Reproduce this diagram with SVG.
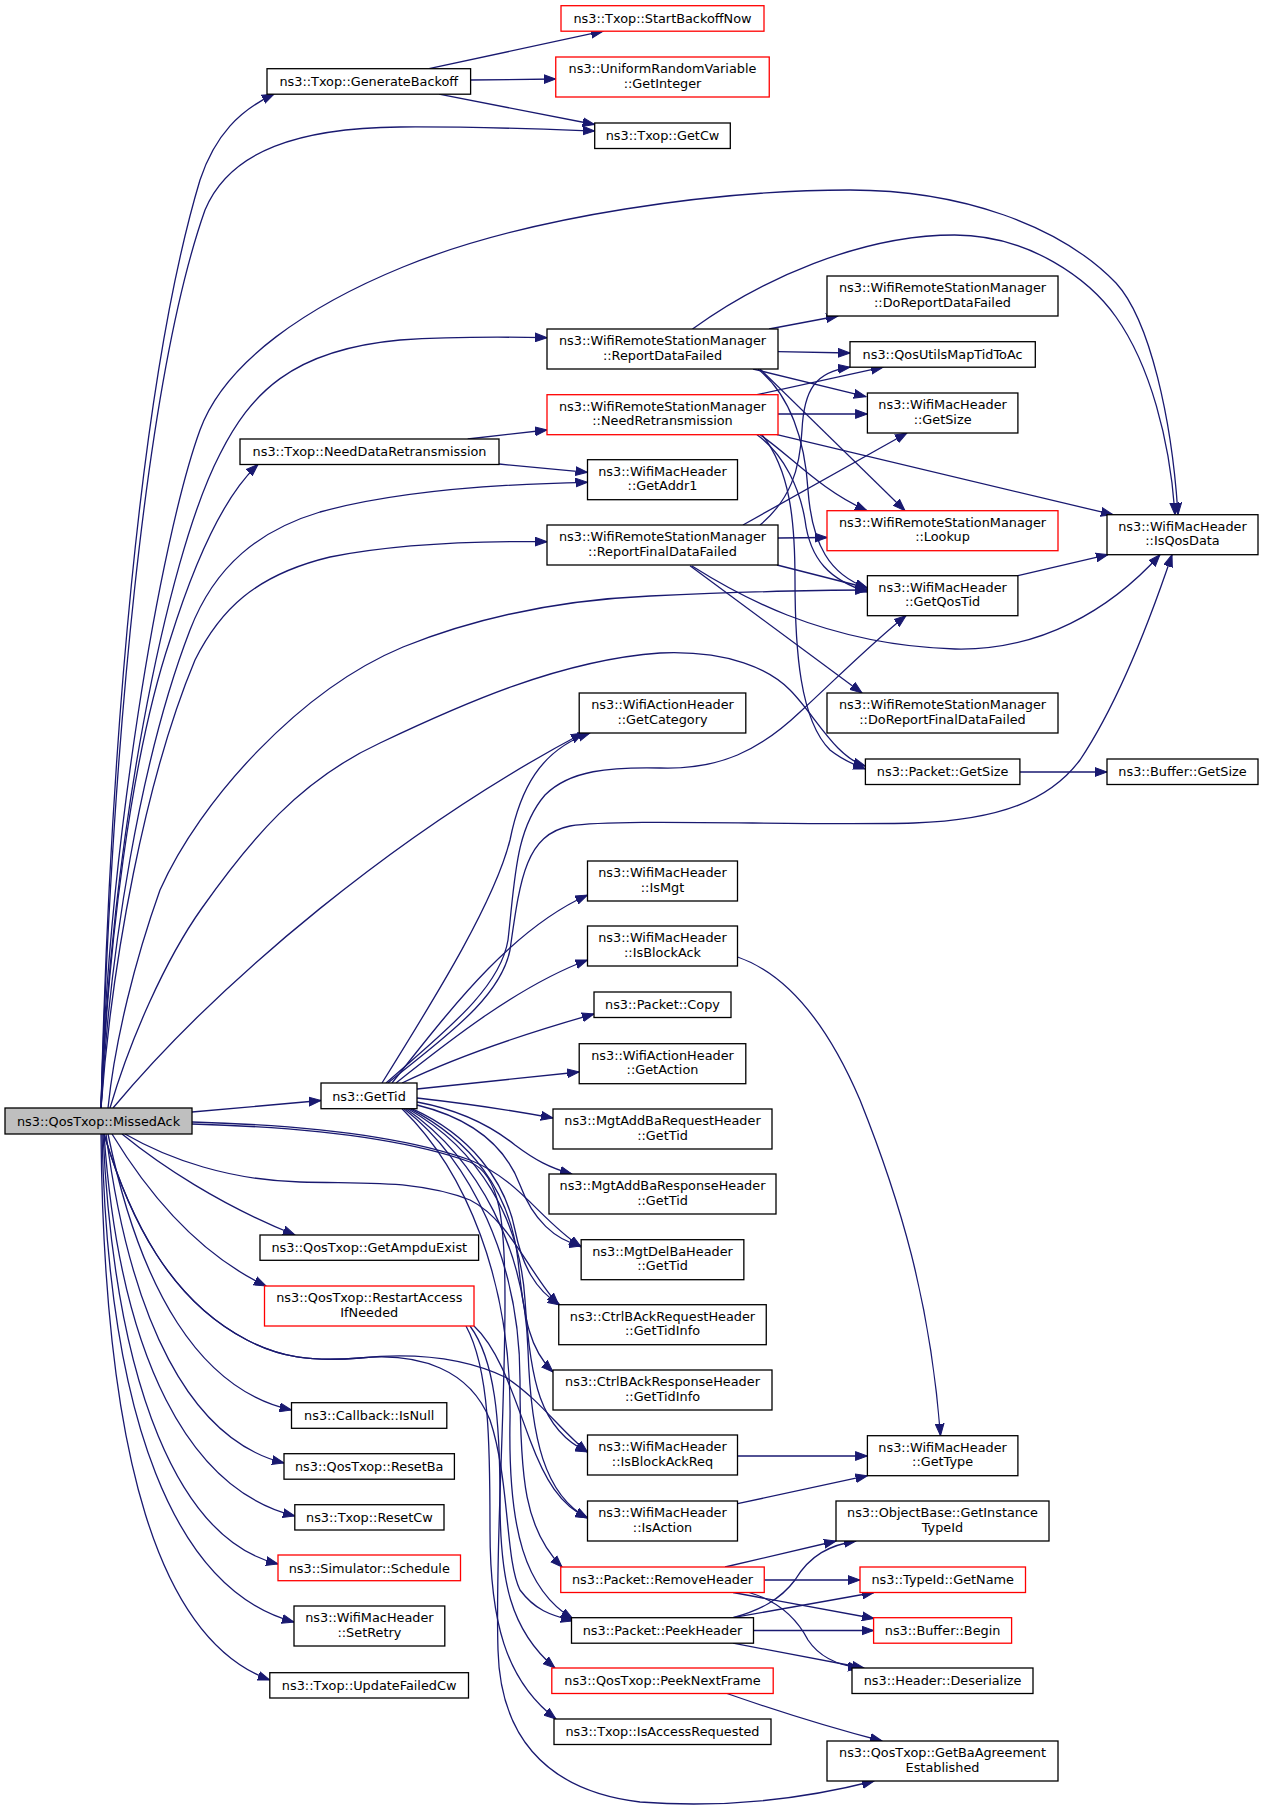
<svg xmlns="http://www.w3.org/2000/svg" width="1264" height="1816" viewBox="0 0 1264 1816">
<defs>
<style>
.node rect{fill:#ffffff;stroke:#000000;stroke-width:1.3}
.node.red rect{stroke:#ff0000}
.node.root rect{fill:#bfbfbf}
.node text{font-family:"DejaVu Sans","Liberation Sans",sans-serif;font-size:12.85px;fill:#000000;text-anchor:middle}
.edges path{fill:none;stroke:#191970;stroke-width:1.3;marker-end:url(#ah)}
</style>
<marker id="ah" markerUnits="userSpaceOnUse" markerWidth="13" markerHeight="10" refX="12" refY="5" orient="auto">
<path d="M0,0.6 L12,5 L0,9.4 z" fill="#191970" stroke="#191970" stroke-width="1"/>
</marker>
</defs>
<rect x="0" y="0" width="1264" height="1816" fill="#ffffff"/>
<g id="edges" class="edges">
<path d="M429,68.7 L603,31.2"/>
<path d="M470.6,80 L555.75,79"/>
<path d="M439,94.2 L594.7,124.5"/>
<path d="M101,1108 C110,750 140,380 200,180 C215,135 240,110 274,94.2"/>
<path d="M101,1108 C112,750 145,380 205,210 C230,150 300,128 400,127 C480,126.5 540,129 594.7,131"/>
<path d="M101,1108 C108,850 160,540 200,430 C225,361 310,305 403,267 C530,215 720,190 850,190 C960,190 1060,225 1116,283 C1150,320 1172,420 1178,514.7"/>
<path d="M101,1108 C110,850 165,560 220,454 C250,395 290,350 400,340 C460,336 510,337 547,337.7"/>
<path d="M101,1108 C108,950 130,760 170,640 C195,560 225,495 258,464.5"/>
<path d="M101,1108 C110,950 140,760 190,630 C215,565 260,530 320,512 C400,490 500,484 587.5,482.3"/>
<path d="M101,1108 C112,960 145,780 195,660 C220,610 255,575 330,557 C400,543 480,541 547,541.7"/>
<path d="M108,1108 C115,1040 135,960 160,890 C200,800 300,690 403,647 C480,616 560,600 650,596 C740,592 810,590 867.4,590"/>
<path d="M110,1108 C130,1040 165,960 202,908 C250,840 300,780 380,743 C460,705 560,660 660,653 C730,650 770,670 790,690 C815,715 835,757 865.4,766"/>
<path d="M113,1108 C220,980 400,830 583,733"/>
<path d="M192,1112 L321,1100.5"/>
<path d="M382,1083 C440,990 495,900 510,840 C520,790 540,750 590,733"/>
<path d="M386,1083 C440,1035 500,990 508,940 C515,880 515,830 545,795 C570,770 610,767 660,768 C720,770 760,750 800,712 C840,675 875,640 906,615.7"/>
<path d="M388,1083 C440,1040 500,1000 510,950 C520,880 525,835 570,826 C620,818 800,826 914,823 C1000,820 1050,800 1080,760 C1120,700 1150,620 1172,554.7"/>
<path d="M392,1083 C450,1010 510,930 587.5,895"/>
<path d="M396,1083 C450,1040 520,985 587.5,960"/>
<path d="M402,1083 C450,1060 520,1035 594,1014"/>
<path d="M417,1089 L579.2,1072"/>
<path d="M417,1098 C470,1104 510,1110 553,1118"/>
<path d="M417,1102 C460,1110 490,1125 515,1145 C535,1160 550,1168 572,1174"/>
<path d="M417,1105 C470,1118 505,1145 520,1185 C533,1220 555,1240 581.2,1246"/>
<path d="M412,1108.7 C470,1135 505,1180 515,1230 C522,1265 535,1290 560,1305"/>
<path d="M410,1108.7 C470,1140 510,1190 518,1260 C524,1320 530,1350 553,1372"/>
<path d="M408,1108.7 C480,1150 520,1220 525,1300 C530,1380 540,1430 587.5,1452"/>
<path d="M406,1108.7 C480,1160 525,1250 528,1350 C531,1440 545,1495 587.5,1518"/>
<path d="M404,1108.7 C470,1160 520,1260 520,1380 C520,1480 525,1530 562,1567"/>
<path d="M402,1108.7 C465,1170 512,1280 510,1420 C508,1530 525,1590 573,1619"/>
<path d="M122,1134 C160,1165 220,1205 295,1235"/>
<path d="M112,1134 C140,1180 190,1250 266,1286"/>
<path d="M108,1134 C140,1290 200,1390 291.5,1410"/>
<path d="M106,1134 C130,1320 190,1440 284,1463"/>
<path d="M104,1134 C120,1360 190,1490 294.8,1516"/>
<path d="M103,1134 C115,1390 180,1540 278,1564"/>
<path d="M102,1134 C108,1420 175,1590 294,1622"/>
<path d="M101,1134 C104,1460 160,1640 269.8,1680"/>
<path d="M192,1122 C300,1125 400,1135 470,1160 C520,1180 540,1220 581.2,1247"/>
<path d="M125,1134 C170,1160 230,1180 300,1182 C370,1184 420,1180 470,1200 C510,1220 530,1275 558.75,1305"/>
<path d="M104,1134 C130,1220 170,1300 247,1340 C280,1357 310,1362 360,1358 C420,1352 470,1360 507,1378 C540,1400 560,1430 587.5,1452"/>
<path d="M104,1134 C130,1220 170,1300 247,1340 C280,1357 310,1362 360,1358 C420,1352 470,1370 490,1420 C510,1480 505,1560 520,1590 C535,1610 550,1615 573,1621"/>
<path d="M192,1124 C300,1127 400,1137 470,1162 C500,1175 505,1220 505,1300 C505,1420 495,1550 498,1650 C500,1730 540,1790 640,1802 C720,1808 800,1800 874,1781"/>
<path d="M474,1326 C500,1350 515,1400 530,1440 C545,1480 560,1505 587.5,1518"/>
<path d="M470,1326 C495,1360 500,1420 500,1500 C500,1580 510,1630 555,1668"/>
<path d="M466,1326 C490,1370 490,1450 490,1530 C490,1620 505,1680 556,1719"/>
<path d="M737.6,957 C790,975 830,1030 860,1100 C900,1200 930,1300 940.5,1435.7"/>
<path d="M737.6,1456 L867.4,1456"/>
<path d="M737.6,1503.7 L867.4,1475.7"/>
<path d="M725,1567 L836,1541"/>
<path d="M764.25,1580 L860,1580"/>
<path d="M733,1592.5 L874,1618.5"/>
<path d="M749,1592.5 C775,1600 795,1615 808,1640 C818,1655 835,1665 860,1668"/>
<path d="M733,1617.7 C760,1610 780,1600 795,1580 C810,1555 830,1545 856,1541"/>
<path d="M733,1617.7 L874,1592.5"/>
<path d="M753.5,1630.5 L873.6,1630.5"/>
<path d="M733,1643.2 L864,1668"/>
<path d="M727,1693.5 C760,1705 820,1725 882,1741"/>
<path d="M769,329 L838,316"/>
<path d="M778,351.7 L850,353"/>
<path d="M753,369 L866,396.7"/>
<path d="M760,369 L905,510.7"/>
<path d="M758,369 C790,395 805,440 808,490 C812,545 830,575 867.4,588"/>
<path d="M692.5,329 C760,280 860,235 954.6,235 C1030,235 1090,280 1116,317 C1150,365 1170,440 1175,514.7"/>
<path d="M757,394.7 L883,367.2"/>
<path d="M778,414 L867.4,414"/>
<path d="M777,434.7 L1113,514.7"/>
<path d="M760,434.7 C790,455 820,490 867,510.7"/>
<path d="M757,434.7 C785,455 800,490 805,520 C810,560 830,580 867.4,592"/>
<path d="M762,434.7 C790,470 795,520 795,580 C795,650 800,720 830,750 C840,758 852,764 865.4,769"/>
<path d="M760,525 C790,500 800,470 802,430 C804,390 815,372 850,367.2"/>
<path d="M743,525 L907,433"/>
<path d="M778,538 L827,537.5"/>
<path d="M777,565 L867.4,588"/>
<path d="M690,565.7 L862,693"/>
<path d="M692,566 C730,590 820,645 955,649 C1040,651 1110,610 1160,554.7"/>
<path d="M1018,575.7 L1108,554.7"/>
<path d="M1020,772 L1107,772"/>
<path d="M467.7,439 L547,430"/>
<path d="M499,464 L587.5,472.3"/>
</g>
<g id="n_missedack" class="node root"><rect x="5" y="1108" width="187" height="26"/><text x="98.5" y="1125.6">ns3::QosTxop::MissedAck</text></g>
<g id="n_genbackoff" class="node"><rect x="267" y="68.7" width="203.6" height="25.5"/><text x="368.8" y="86.1">ns3::Txop::GenerateBackoff</text></g>
<g id="n_needdataretx" class="node"><rect x="240" y="439" width="259" height="25.5"/><text x="369.5" y="456.4">ns3::Txop::NeedDataRetransmission</text></g>
<g id="n_gettid" class="node"><rect x="321" y="1083" width="96" height="25.7"/><text x="369" y="1100.5">ns3::GetTid</text></g>
<g id="n_getampdu" class="node"><rect x="260" y="1235" width="218.6" height="25.3"/><text x="369.3" y="1252.3">ns3::QosTxop::GetAmpduExist</text></g>
<g id="n_restart" class="node red"><rect x="264.5" y="1286" width="209.5" height="40"/><text x="369.25" y="1302.2">ns3::QosTxop::RestartAccess</text><text x="369.25" y="1316.6">IfNeeded</text></g>
<g id="n_isnull" class="node"><rect x="291.5" y="1402.7" width="155.3" height="25.6"/><text x="369.2" y="1420.1">ns3::Callback::IsNull</text></g>
<g id="n_resetba" class="node"><rect x="284" y="1453.7" width="170.4" height="25.5"/><text x="369.2" y="1471.1">ns3::QosTxop::ResetBa</text></g>
<g id="n_resetcw" class="node"><rect x="294.8" y="1504.7" width="149.2" height="25.3"/><text x="369.4" y="1522">ns3::Txop::ResetCw</text></g>
<g id="n_schedule" class="node red"><rect x="278" y="1555" width="182.5" height="25.7"/><text x="369.25" y="1572.5">ns3::Simulator::Schedule</text></g>
<g id="n_setretry" class="node"><rect x="294" y="1606" width="150.8" height="40"/><text x="369.4" y="1622.2">ns3::WifiMacHeader</text><text x="369.4" y="1636.6">::SetRetry</text></g>
<g id="n_updatecw" class="node"><rect x="269.8" y="1672.7" width="198.7" height="25.3"/><text x="369.15" y="1690">ns3::Txop::UpdateFailedCw</text></g>
<g id="n_startbackoff" class="node red"><rect x="561" y="5.7" width="203" height="25.5"/><text x="662.5" y="23.1">ns3::Txop::StartBackoffNow</text></g>
<g id="n_getinteger" class="node red"><rect x="555.75" y="57" width="213.5" height="40"/><text x="662.5" y="73.2">ns3::UniformRandomVariable</text><text x="662.5" y="87.6">::GetInteger</text></g>
<g id="n_getcw" class="node"><rect x="594.7" y="123" width="135.6" height="25.5"/><text x="662.5" y="140.4">ns3::Txop::GetCw</text></g>
<g id="n_rdf" class="node"><rect x="547" y="329" width="231" height="40"/><text x="662.5" y="345.2">ns3::WifiRemoteStationManager</text><text x="662.5" y="359.6">::ReportDataFailed</text></g>
<g id="n_needretx" class="node red"><rect x="547" y="394.7" width="231" height="40"/><text x="662.5" y="410.9">ns3::WifiRemoteStationManager</text><text x="662.5" y="425.3">::NeedRetransmission</text></g>
<g id="n_getaddr1" class="node"><rect x="587.5" y="459.7" width="150" height="40"/><text x="662.5" y="475.9">ns3::WifiMacHeader</text><text x="662.5" y="490.3">::GetAddr1</text></g>
<g id="n_rfdf" class="node"><rect x="547" y="525" width="231" height="40"/><text x="662.5" y="541.2">ns3::WifiRemoteStationManager</text><text x="662.5" y="555.6">::ReportFinalDataFailed</text></g>
<g id="n_getcategory" class="node"><rect x="579.2" y="693" width="166.6" height="40"/><text x="662.5" y="709.2">ns3::WifiActionHeader</text><text x="662.5" y="723.6">::GetCategory</text></g>
<g id="n_ismgt" class="node"><rect x="587.5" y="861" width="150" height="40"/><text x="662.5" y="877.2">ns3::WifiMacHeader</text><text x="662.5" y="891.6">::IsMgt</text></g>
<g id="n_isblockack" class="node"><rect x="587.5" y="926" width="150" height="40"/><text x="662.5" y="942.2">ns3::WifiMacHeader</text><text x="662.5" y="956.6">::IsBlockAck</text></g>
<g id="n_copy" class="node"><rect x="594" y="992" width="137" height="25.5"/><text x="662.5" y="1009.4">ns3::Packet::Copy</text></g>
<g id="n_getaction" class="node"><rect x="579.2" y="1043.7" width="166.6" height="40"/><text x="662.5" y="1059.9">ns3::WifiActionHeader</text><text x="662.5" y="1074.3">::GetAction</text></g>
<g id="n_addbareq" class="node"><rect x="553" y="1109" width="219" height="40"/><text x="662.5" y="1125.2">ns3::MgtAddBaRequestHeader</text><text x="662.5" y="1139.6">::GetTid</text></g>
<g id="n_addbaresp" class="node"><rect x="549" y="1174" width="227" height="40"/><text x="662.5" y="1190.2">ns3::MgtAddBaResponseHeader</text><text x="662.5" y="1204.6">::GetTid</text></g>
<g id="n_delba" class="node"><rect x="581.15" y="1239.7" width="162.7" height="40"/><text x="662.5" y="1255.9">ns3::MgtDelBaHeader</text><text x="662.5" y="1270.3">::GetTid</text></g>
<g id="n_backreq" class="node"><rect x="558.75" y="1304.7" width="207.5" height="40"/><text x="662.5" y="1320.9">ns3::CtrlBAckRequestHeader</text><text x="662.5" y="1335.3">::GetTidInfo</text></g>
<g id="n_backresp" class="node"><rect x="553" y="1370" width="219" height="40"/><text x="662.5" y="1386.2">ns3::CtrlBAckResponseHeader</text><text x="662.5" y="1400.6">::GetTidInfo</text></g>
<g id="n_isbar" class="node"><rect x="587.5" y="1435" width="150" height="40"/><text x="662.5" y="1451.2">ns3::WifiMacHeader</text><text x="662.5" y="1465.6">::IsBlockAckReq</text></g>
<g id="n_isaction" class="node"><rect x="587.5" y="1501" width="150" height="40"/><text x="662.5" y="1517.2">ns3::WifiMacHeader</text><text x="662.5" y="1531.6">::IsAction</text></g>
<g id="n_removeheader" class="node red"><rect x="560.75" y="1567" width="203.5" height="25.5"/><text x="662.5" y="1584.4">ns3::Packet::RemoveHeader</text></g>
<g id="n_peekheader" class="node"><rect x="571.5" y="1617.7" width="182" height="25.5"/><text x="662.5" y="1635.1">ns3::Packet::PeekHeader</text></g>
<g id="n_peeknext" class="node red"><rect x="551.8" y="1668" width="221.4" height="25.5"/><text x="662.5" y="1685.4">ns3::QosTxop::PeekNextFrame</text></g>
<g id="n_isaccessreq" class="node"><rect x="554" y="1719" width="217" height="25.5"/><text x="662.5" y="1736.4">ns3::Txop::IsAccessRequested</text></g>
<g id="n_dordf" class="node"><rect x="827" y="276" width="231" height="40"/><text x="942.5" y="292.2">ns3::WifiRemoteStationManager</text><text x="942.5" y="306.6">::DoReportDataFailed</text></g>
<g id="n_qosutils" class="node"><rect x="850" y="341.7" width="185.3" height="25.5"/><text x="942.6" y="359.1">ns3::QosUtilsMapTidToAc</text></g>
<g id="n_getsize" class="node"><rect x="867.4" y="393" width="150.5" height="40"/><text x="942.6" y="409.2">ns3::WifiMacHeader</text><text x="942.6" y="423.6">::GetSize</text></g>
<g id="n_lookup" class="node red"><rect x="827" y="510.7" width="231" height="40"/><text x="942.5" y="526.9">ns3::WifiRemoteStationManager</text><text x="942.5" y="541.3">::Lookup</text></g>
<g id="n_getqostid" class="node"><rect x="867.4" y="575.7" width="150.5" height="40"/><text x="942.6" y="591.9">ns3::WifiMacHeader</text><text x="942.6" y="606.3">::GetQosTid</text></g>
<g id="n_dorfdf" class="node"><rect x="827" y="693" width="231" height="40"/><text x="942.5" y="709.2">ns3::WifiRemoteStationManager</text><text x="942.5" y="723.6">::DoReportFinalDataFailed</text></g>
<g id="n_pktgetsize" class="node"><rect x="865.4" y="759" width="154.5" height="25.5"/><text x="942.6" y="776.4">ns3::Packet::GetSize</text></g>
<g id="n_gettype" class="node"><rect x="867.4" y="1435.7" width="150.5" height="40"/><text x="942.6" y="1451.9">ns3::WifiMacHeader</text><text x="942.6" y="1466.3">::GetType</text></g>
<g id="n_objectbase" class="node"><rect x="836" y="1501" width="213" height="40"/><text x="942.5" y="1517.2">ns3::ObjectBase::GetInstance</text><text x="942.5" y="1531.6">TypeId</text></g>
<g id="n_getname" class="node red"><rect x="860" y="1567" width="165.5" height="25.5"/><text x="942.7" y="1584.4">ns3::TypeId::GetName</text></g>
<g id="n_bufbegin" class="node red"><rect x="873.6" y="1617.7" width="138" height="25.5"/><text x="942.6" y="1635.1">ns3::Buffer::Begin</text></g>
<g id="n_deserialize" class="node"><rect x="852" y="1668" width="181" height="25.5"/><text x="942.5" y="1685.4">ns3::Header::Deserialize</text></g>
<g id="n_getba" class="node"><rect x="827" y="1741" width="231" height="40"/><text x="942.5" y="1757.2">ns3::QosTxop::GetBaAgreement</text><text x="942.5" y="1771.6">Established</text></g>
<g id="n_isqosdata" class="node"><rect x="1107" y="514.7" width="151" height="40"/><text x="1182.5" y="530.9">ns3::WifiMacHeader</text><text x="1182.5" y="545.3">::IsQosData</text></g>
<g id="n_bufgetsize" class="node"><rect x="1107" y="759" width="151" height="25.5"/><text x="1182.5" y="776.4">ns3::Buffer::GetSize</text></g>
</svg>
